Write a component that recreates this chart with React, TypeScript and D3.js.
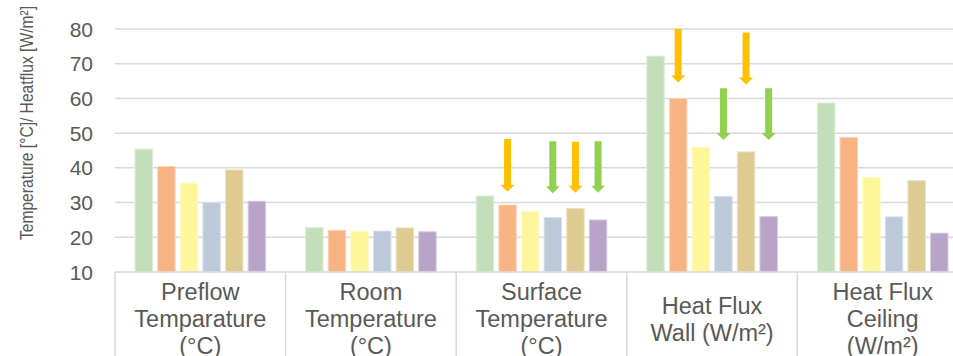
import React from "react";
import * as d3 from "d3";

// Categories (multi-line axis labels)
const categories: string[][] = [
  ["Preflow", "Temparature", "(°C)"],
  ["Room", "Temperature", "(°C)"],
  ["Surface", "Temperature", "(°C)"],
  ["Heat Flux", "Wall (W/m²)"],
  ["Heat Flux", "Ceiling", "(W/m²)"],
];

// Six series, one value per category
const seriesA = [45.4, 22.8, 31.9, 72.2, 58.7];
const seriesB = [40.4, 22.0, 29.3, 60.0, 48.8];
const seriesC = [35.6, 21.7, 27.5, 45.9, 37.3];
const seriesD = [30.0, 21.8, 25.7, 31.8, 25.9];
const seriesE = [39.4, 22.7, 28.3, 44.6, 36.3];
const seriesF = [30.4, 21.6, 25.0, 26.0, 21.2];
const allSeries = [seriesA, seriesB, seriesC, seriesD, seriesE, seriesF];

const seriesColors = ["#c3dfb9", "#f7b383", "#fff59a", "#bcc9da", "#ddcb92", "#b8a4c8"];

// Axis ticks
const yTicks = [10, 20, 30, 40, 50, 60, 70, 80];

// Annotation arrows: category index, series index, start value, tip value, colour
const arrowCategory = [2, 2, 2, 2, 3, 3, 3, 3];
const arrowSeries = [1, 3, 4, 5, 1, 3, 4, 5];
const arrowFrom = [48.3, 47.7, 47.5, 47.7, 80, 62.9, 79, 62.9];
const arrowTo = [33.1, 32.7, 32.8, 32.8, 64.6, 48, 64, 48];
const arrowColors = ["#ffc000", "#92d050", "#ffc000", "#92d050", "#ffc000", "#92d050", "#ffc000", "#92d050"];

const W = 953;
const H = 356;
const plotLeft = 115;
const groupWidth = 170.6;
const plotRight = plotLeft + groupWidth * categories.length;
const plotTop = 29;
const plotBottom = 272;

const textColor = "#595959";
const gridColor = "#d9d9d9";
const font = "'Liberation Sans', Arial, sans-serif";

export default function App() {
  const x0 = d3
    .scaleBand<number>()
    .domain(categories.map((_, i) => i))
    .range([plotLeft, plotRight])
    .padding(0);
  const x1 = d3
    .scaleBand<number>()
    .domain(allSeries.map((_, i) => i))
    .range([0, x0.bandwidth()])
    .paddingInner(0.227)
    .paddingOuter(0.883);
  const y = d3.scaleLinear().domain([10, 80]).range([plotBottom, plotTop]);

  const bw = x1.bandwidth();
  const lineH = 27;
  const shaftW = 7;
  const headW = 14;
  const headL = 7;

  return (
    <svg
      width={W}
      height={H}
      style={{ position: "absolute", left: 0, top: 0, background: "#fff" }}
      fontFamily={font}
    >
      {/* gridlines */}
      {yTicks.slice(1).map((t) => (
        <line
          key={t}
          x1={plotLeft}
          x2={W}
          y1={y(t)}
          y2={y(t)}
          stroke={gridColor}
          strokeWidth={1.5}
        />
      ))}
      {/* y tick labels */}
      {yTicks.map((t) => (
        <text
          key={t}
          x={93}
          y={y(t)}
          textAnchor="end"
          dominantBaseline="central"
          fontSize={21}
          fill={textColor}
        >
          {t}
        </text>
      ))}
      {/* y axis title */}
      <text
        transform={`translate(33,123) rotate(-90)`}
        textAnchor="middle"
        fontSize={17.5}
        textLength={234}
        lengthAdjust="spacingAndGlyphs"
        fill={textColor}
      >
        Temperature [°C]/ Heatflux [W/m²]
      </text>

      {/* bars */}
      {categories.map((_, ci) => (
        <g key={ci} transform={`translate(${x0(ci)},0)`}>
          {allSeries.map((s, si) => (
            <rect
              key={si}
              x={x1(si)}
              y={y(s[ci])}
              width={bw}
              height={plotBottom - y(s[ci])}
              fill={seriesColors[si]}
              stroke={d3.interpolateRgb(seriesColors[si], "#ffffff")(0.45)}
              strokeWidth={1}
            />
          ))}
        </g>
      ))}

      {/* arrows */}
      {arrowCategory.map((ci, i) => {
        const cx = (x0(ci) as number) + (x1(arrowSeries[i]) as number) + bw / 2;
        const top = y(arrowFrom[i]);
        const tip = y(arrowTo[i]);
        const neck = tip - headL;
        const d = [
          [cx - shaftW / 2, top],
          [cx + shaftW / 2, top],
          [cx + shaftW / 2, neck],
          [cx + headW / 2, neck],
          [cx, tip],
          [cx - headW / 2, neck],
          [cx - shaftW / 2, neck],
        ];
        return (
          <path
            key={i}
            d={d3.line()(d as [number, number][]) + "Z"}
            fill={arrowColors[i]}
          />
        );
      })}

      {/* category axis line and separators */}
      <line x1={plotLeft} x2={W} y1={plotBottom} y2={plotBottom} stroke={gridColor} strokeWidth={1.5} />
      {d3.range(categories.length + 1).map((i) => {
        const xx = plotLeft + i * groupWidth;
        return (
          <line key={i} x1={xx} x2={xx} y1={plotBottom} y2={H} stroke={gridColor} strokeWidth={1.5} />
        );
      })}

      {/* category labels */}
      {categories.map((lines, ci) => {
        const cx = (x0(ci) as number) + x0.bandwidth() / 2;
        return (
          <text key={ci} textAnchor="middle" fontSize={23.5} fill={textColor}>
            {lines.map((ln, li) => (
              <tspan key={li} x={cx} y={327 + (li - (lines.length - 1) / 2) * lineH}>
                {ln}
              </tspan>
            ))}
          </text>
        );
      })}
    </svg>
  );
}
